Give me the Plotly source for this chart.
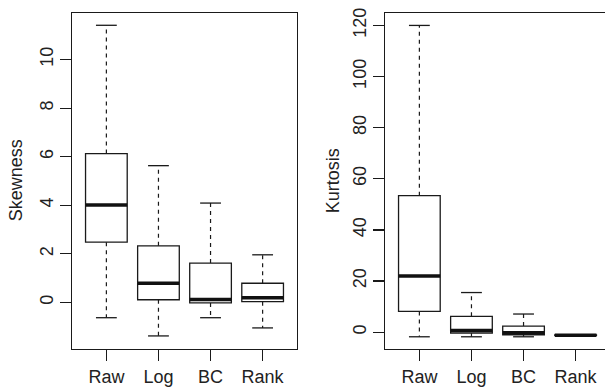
import plotly.graph_objects as go

categories = ["Raw", "Log", "BC", "Rank"]

skew_low = [-0.63, -1.38, -0.63, -1.05]
skew_q1 = [2.48, 0.11, -0.02, 0.03]
skew_med = [4.01, 0.79, 0.12, 0.19]
skew_q3 = [6.13, 2.33, 1.62, 0.79]
skew_high = [11.41, 5.63, 4.09, 1.96]

kurt_low = [-1.8, -1.8, -1.8, -1.35]
kurt_q1 = [8.1, -0.4, -1.0, -1.25]
kurt_med = [22.0, 0.6, -0.25, -1.2]
kurt_q3 = [53.4, 6.2, 2.4, -1.1]
kurt_high = [120.0, 15.5, 7.1, -1.0]

skew_ticks = [0, 2, 4, 6, 8, 10]
kurt_ticks = [0, 20, 40, 60, 80, 100, 120]

W, H = 605, 391
LINE = "#1a1a1a"
TXT = "#222222"
FONT = "Liberation Sans, Arial, sans-serif"

fig = go.Figure()


def add_panel(low, q1, med, q3, high, xa, ya):
    xs = list(range(1, len(categories) + 1))
    for i, x in enumerate(xs):
        fig.add_trace(go.Box(
            x=[x], q1=[q1[i]], median=[med[i]], q3=[q3[i]],
            lowerfence=[q1[i]], upperfence=[q3[i]],
            width=0.8, boxpoints=False, fillcolor="white",
            line=dict(color=LINE, width=1.3), whiskerwidth=0,
            xaxis=xa, yaxis=ya, showlegend=False, hoverinfo="skip"))
    wx, wy, cx, cy, mx, my = [], [], [], [], [], []
    for i, x in enumerate(xs):
        wx += [x, x, None, x, x, None]
        wy += [q3[i], high[i], None, q1[i], low[i], None]
        cx += [x - 0.2, x + 0.2, None, x - 0.2, x + 0.2, None]
        cy += [high[i], high[i], None, low[i], low[i], None]
        mx += [x - 0.4, x + 0.4, None]
        my += [med[i], med[i], None]
    fig.add_trace(go.Scatter(x=wx, y=wy, mode="lines", xaxis=xa, yaxis=ya,
                             line=dict(color=LINE, width=1.2, dash="4px,4px"),
                             showlegend=False, hoverinfo="skip"))
    fig.add_trace(go.Scatter(x=cx, y=cy, mode="lines", xaxis=xa, yaxis=ya,
                             line=dict(color=LINE, width=1.3),
                             showlegend=False, hoverinfo="skip"))
    fig.add_trace(go.Scatter(x=mx, y=my, mode="lines", xaxis=xa, yaxis=ya,
                             line=dict(color="#111111", width=3.6),
                             showlegend=False, hoverinfo="skip"))


add_panel(skew_low, skew_q1, skew_med, skew_q3, skew_high, "x", "y")
add_panel(kurt_low, kurt_q1, kurt_med, kurt_q3, kurt_high, "x2", "y2")

ydom = [(H - 348.5) / H, (H - 8) / H]

axis_common = dict(showgrid=False, zeroline=False, showline=True,
                   linecolor=LINE, linewidth=1.3, ticks="outside",
                   ticklen=11, tickwidth=1.2, tickcolor=LINE,
                   tickfont=dict(family=FONT, size=18, color=TXT))

fig.update_layout(
    width=W, height=H,
    margin=dict(l=0, r=0, t=0, b=0),
    paper_bgcolor="white", plot_bgcolor="white",
    showlegend=False,
    xaxis=dict(domain=[72 / W, 297 / W], range=[0.34, 4.66],
               tickmode="array", tickvals=[1, 2, 3, 4], ticktext=categories,
               mirror=True, anchor="y", **axis_common),
    yaxis=dict(domain=ydom, range=[-1.92, 11.92], tickmode="array",
               tickvals=skew_ticks, tickangle=-90, mirror=True,
               anchor="x", **axis_common),
    xaxis2=dict(domain=[385 / W, 1.0], range=[0.34, 4.564],
                tickmode="array", tickvals=[1, 2, 3, 4], ticktext=categories,
                mirror=True, anchor="y2", **axis_common),
    yaxis2=dict(domain=ydom, range=[-6.6, 124.9], tickmode="array",
                tickvals=kurt_ticks, tickangle=-90, mirror=False,
                anchor="x2", **axis_common),
    annotations=[
        dict(text="Skewness", xref="paper", yref="paper", x=15.5 / W,
             y=(H - 178) / H, textangle=-90, showarrow=False,
             xanchor="center", yanchor="middle",
             font=dict(family=FONT, size=18, color=TXT)),
        dict(text="Kurtosis", xref="paper", yref="paper", x=332.5 / W,
             y=(H - 178) / H, textangle=-90, showarrow=False,
             xanchor="center", yanchor="middle",
             font=dict(family=FONT, size=18, color=TXT)),
    ],
)

fig.write_html("out.html",
               config={"displayModeBar": False, "staticPlot": True},
               post_script="document.body.style.margin='0';"
                           "document.body.style.overflow='hidden';")
